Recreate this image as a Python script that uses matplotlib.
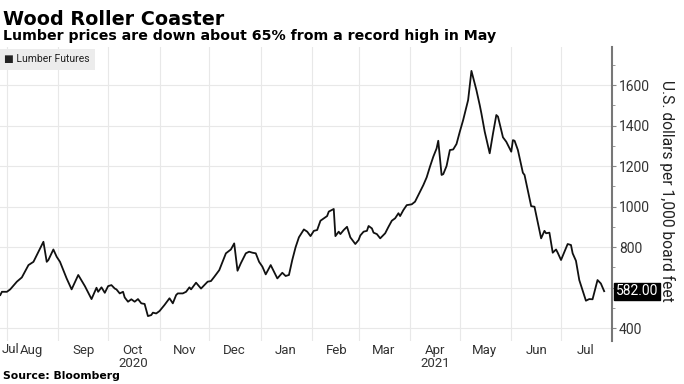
import matplotlib
matplotlib.use('Agg')
from matplotlib import pyplot as plt
from matplotlib import font_manager
import pandas as pd

#%% DATA
dates = ["2020-07-28","2020-07-29",
         "2020-08-01","2020-08-03","2020-08-07","2020-08-10","2020-08-14","2020-08-17","2020-08-20","2020-08-23","2020-08-25","2020-08-26","2020-08-29","2020-08-31",
         "2020-09-02","2020-09-06","2020-09-09","2020-09-13","2020-09-17","2020-09-18","2020-09-21","2020-09-24","2020-09-25","2020-09-27","2020-09-29",
         "2020-10-01","2020-10-03","2020-10-05","2020-10-06","2020-10-08","2020-10-10","2020-10-11","2020-10-13","2020-10-15","2020-10-17","2020-10-19","2020-10-21","2020-10-23","2020-10-25","2020-10-27","2020-10-28","2020-10-30",
         "2020-11-01","2020-11-04","2020-11-07","2020-11-09","2020-11-11","2020-11-12","2020-11-15","2020-11-17","2020-11-19","2020-11-20","2020-11-23","2020-11-26","2020-11-30",
         "2020-12-02","2020-12-04","2020-12-07","2020-12-11","2020-12-14","2020-12-16","2020-12-18","2020-12-20","2020-12-23","2020-12-25","2020-12-27","2020-12-29","2020-12-31",
         "2021-01-02","2021-01-04","2021-01-07","2021-01-09","2021-01-11","2021-01-14","2021-01-16","2021-01-18","2021-01-20","2021-01-22","2021-01-24","2021-01-27","2021-01-29","2021-01-31",
         "2021-02-02","2021-02-04","2021-02-06","2021-02-09","2021-02-10","2021-02-11","2021-02-14","2021-02-15","2021-02-17","2021-02-18","2021-02-20","2021-02-22","2021-02-24","2021-02-27",
         "2021-03-01","2021-03-02","2021-03-04","2021-03-06","2021-03-07","2021-03-09","2021-03-10","2021-03-12","2021-03-14","2021-03-17","2021-03-19","2021-03-21","2021-03-23","2021-03-25","2021-03-26","2021-03-28","2021-03-30",
         "2021-04-02","2021-04-04","2021-04-07","2021-04-09","2021-04-11","2021-04-13","2021-04-15","2021-04-17","2021-04-18","2021-04-20","2021-04-21","2021-04-23","2021-04-25","2021-04-27","2021-04-29",
         "2021-05-01","2021-05-03","2021-05-06","2021-05-08","2021-05-11","2021-05-13","2021-05-14","2021-05-16","2021-05-19","2021-05-21","2021-05-23","2021-05-24","2021-05-27","2021-05-29",
         "2021-06-01","2021-06-02","2021-06-03","2021-06-05","2021-06-08","2021-06-09","2021-06-13","2021-06-15","2021-06-19","2021-06-21","2021-06-22","2021-06-24","2021-06-26","2021-06-28","2021-06-29",
         "2021-07-01","2021-07-05","2021-07-07","2021-07-08","2021-07-10","2021-07-12","2021-07-16","2021-07-18","2021-07-20","2021-07-23","2021-07-25","2021-07-27"]

prices = [563,579,
          579,591,629,650,711,727,777,826,727,736,788,752,
          727,645,591,662,607,591,543,599,579,601,574,
          607,612,595,591,571,579,551,530,542,530,543,522,519,459,464,476,472,
          484,514,547,522,563,571,571,579,601,591,624,595,629,
          632,653,686,769,788,818,683,720,769,777,772,769,727,
          703,665,711,678,645,673,657,662,736,799,848,887,876,854,
          880,884,930,947,953,975,988,854,876,864,884,900,848,815,
          835,857,876,880,904,892,871,864,843,868,900,930,942,967,953,983,1007,
          1011,1024,1073,1106,1144,1197,1246,1287,1325,1156,1160,1200,1279,1282,1309,
          1370,1427,1526,1670,1575,1501,1460,1370,1263,1361,1452,1444,1342,1320,
          1271,1328,1325,1279,1167,1156,1002,999,843,880,868,871,772,788,772,
          736,815,810,769,732,637,535,543,542,637,620,582]

yticks = [400, 600, 800, 1000, 1200, 1400, 1600]
ytick_labels = ['400', '', '800', '1000', '1200', '1400', '1600']  # 600 sits under the last-value tag
month_labels = ['Aug', 'Sep', 'Oct\n2020', 'Nov', 'Dec', 'Jan', 'Feb', 'Mar', 'Apr\n2021', 'May', 'Jun', 'Jul']
last_label = '582.00'

#%% FONTS
installed = {f.name for f in font_manager.fontManager.ttflist}
narrow = 'Liberation Sans Narrow' if 'Liberation Sans Narrow' in installed else 'Roboto'

#%% PLOT
x = pd.to_datetime(dates)

fig = plt.figure(figsize=(6.84, 3.84), dpi=100)
ax = fig.add_axes([0.0, 0.112, 0.8947, 0.7656])

ax.plot(x, prices, color='#111111', lw=1.3, zorder=3)

ax.set_xlim(pd.Timestamp('2020-07-27 20:00'), pd.Timestamp('2021-07-31 17:00'))
ax.set_ylim(336, 1788)

month_starts = pd.date_range('2020-08-01', '2021-07-01', freq='MS')
month_mids = month_starts + pd.Timedelta(days=15)
ax.set_xticks(month_starts)
ax.set_xticklabels([])
ax.set_xticks(month_mids, minor=True)
ax.set_xticklabels(month_labels, minor=True, fontsize=9.5, color='#333333', family=narrow,
                   linespacing=1.05)
ax.tick_params(axis='x', which='both', length=0, pad=2)
ax.text(0.002, -0.007, 'Jul', transform=ax.transAxes, ha='left', va='top',
        fontsize=9.5, color='#333333', family=narrow)

ax.yaxis.tick_right()
ax.set_yticks(yticks)
ax.set_yticklabels(ytick_labels, fontsize=10, color='#333333', family=narrow)
ax.set_yticks(range(400, 1800, 100), minor=True)
ax.tick_params(axis='y', which='major', length=3, width=0.8, color='#888888', pad=2)
ax.tick_params(axis='y', which='minor', length=2, width=0.6, color='#888888')

ax.grid(True, which='major', color='#e8e8e8', lw=0.8, zorder=0)
for side in ['top', 'left', 'bottom']:
    ax.spines[side].set_visible(False)
ax.spines['right'].set_color('#777777')
ax.spines['right'].set_linewidth(1.5)

ax.annotate(last_label, xy=(1, prices[-1]), xycoords=('axes fraction', 'data'),
            xytext=(3, 0), textcoords='offset points', ha='left', va='center',
            fontsize=10, color='white', family=narrow, zorder=5,
            bbox=dict(boxstyle='square,pad=0.12', fc='black', ec='black'))

ax.yaxis.set_label_position('right')
ax.set_ylabel('U.S. dollars per 1,000 board feet', rotation=270, fontsize=11.2,
              color='#222222', labelpad=18, family=narrow, y=0.51)

# legend box
ax.text(0.006, 0.975, '\u25A0 Lumber Futures', transform=ax.transAxes, ha='left', va='top',
        fontsize=7.5, color='#222222', family=[narrow, 'DejaVu Sans'], zorder=6,
        bbox=dict(boxstyle='square,pad=0.5', fc='#ececec', ec='none'))

fig.text(0.004, 0.975, 'Wood Roller Coaster', fontsize=13.8, fontweight='bold',
         color='black', va='top', ha='left')
fig.text(0.004, 0.925, 'Lumber prices are down about 65% from a record high in May',
         fontsize=10.2, fontweight='bold', color='black', va='top', ha='left')
fig.text(0.004, 0.008, 'Source: Bloomberg', fontsize=7.8, fontweight='bold',
         color='black', va='bottom', ha='left')

fig.savefig('out.png', dpi=100, facecolor='white')
